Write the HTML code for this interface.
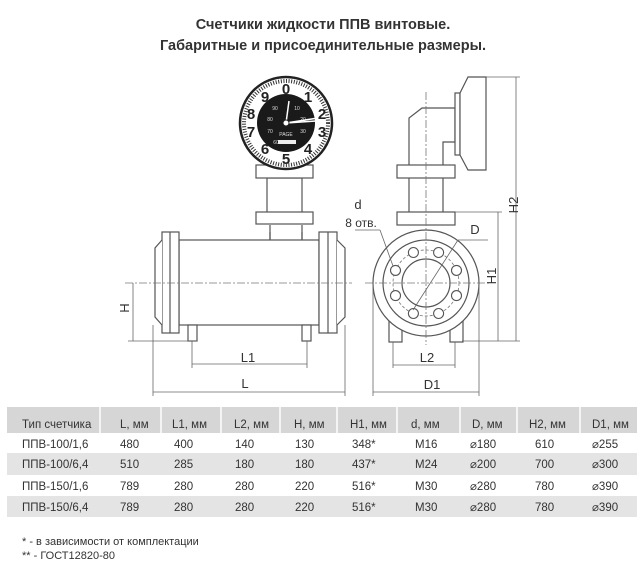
<!DOCTYPE html>
<html><head><meta charset="utf-8"><style>
body{margin:0;background:#fff;width:641px;height:574px;overflow:hidden;font-family:"Liberation Sans",sans-serif;}
</style></head><body>
<svg width="641" height="574" viewBox="0 0 641 574" xmlns="http://www.w3.org/2000/svg" font-family="Liberation Sans, sans-serif">
<text x="323" y="29" text-anchor="middle" font-size="14.5" font-weight="bold" fill="#333">Счетчики жидкости ППВ винтовые.</text>
<text x="323" y="50" text-anchor="middle" font-size="14.5" font-weight="bold" fill="#333">Габаритные и присоединительные размеры.</text>

<g fill="#fff" stroke="#555" stroke-width="1.2">
<path d="M270 225 L270 242 Q286 252 302 242 L302 225"/>
<rect x="267" y="178" width="35" height="35"/>
<rect x="256" y="165" width="57" height="13"/>
<rect x="256" y="212" width="57" height="12"/>
<rect x="179" y="240" width="140" height="85"/>
<path d="M270 240 L270 232 M302 240 L302 232"/>
<rect x="162" y="232" width="17" height="101"/>
<line x1="170" y1="232" x2="170" y2="333"/>
<path d="M162 240 L155 248 L155 317 L162 325"/>
<rect x="319" y="232" width="18" height="101"/>
<line x1="328" y1="232" x2="328" y2="333"/>
<path d="M337 240 L345 248 L345 317 L337 325"/>
<rect x="188" y="325" width="9" height="16"/>
<rect x="302" y="325" width="9" height="16"/>
<path d="M409 212 L409 118 L422 108 L455 108 L455 142 L443 142 L443 212"/>
<rect x="397" y="165" width="58" height="13"/>
<rect x="397" y="212" width="58" height="13"/>
<rect x="455" y="93" width="5" height="62"/>
<path d="M468 77 L486 77 L486 170 L468 170 L460 155 L460 93 Z"/>
<rect x="389" y="318" width="13" height="24"/>
<rect x="450" y="318" width="13" height="24"/>
<circle cx="426" cy="283" r="53"/>
<circle cx="426" cy="283" r="43"/>
<circle cx="426" cy="283" r="24"/>
</g>
<circle cx="426" cy="283" r="33" fill="none" stroke="#777" stroke-width="0.8" stroke-dasharray="3 2"/>
<g fill="#fff" stroke="#555" stroke-width="1.1">
<circle cx="438.6" cy="252.5" r="5"/><circle cx="456.5" cy="270.4" r="5"/>
<circle cx="456.5" cy="295.6" r="5"/><circle cx="438.6" cy="313.5" r="5"/>
<circle cx="413.4" cy="313.5" r="5"/><circle cx="395.5" cy="295.6" r="5"/>
<circle cx="395.5" cy="270.4" r="5"/><circle cx="413.4" cy="252.5" r="5"/>
</g>
<g stroke="#777" stroke-width="0.8" stroke-dasharray="8 2 2 2" fill="none">
<line x1="125" y1="283" x2="352" y2="283"/>
<line x1="365" y1="283" x2="490" y2="283"/>
<line x1="426" y1="92" x2="426" y2="345"/>
</g>
<g stroke="#666" stroke-width="0.8" fill="none">
<line x1="133" y1="283" x2="133" y2="341"/><line x1="128" y1="341" x2="197" y2="341"/>
<line x1="192" y1="341" x2="192" y2="368"/><line x1="307" y1="341" x2="307" y2="368"/>
<line x1="192" y1="364" x2="307" y2="364"/>
<line x1="153" y1="325" x2="153" y2="396"/><line x1="345" y1="325" x2="345" y2="396"/>
<line x1="153" y1="392" x2="345" y2="392"/>
<line x1="393" y1="342" x2="393" y2="368"/><line x1="455" y1="342" x2="455" y2="368"/>
<line x1="393" y1="365" x2="455" y2="365"/>
<line x1="373" y1="283" x2="373" y2="396"/><line x1="479" y1="283" x2="479" y2="396"/>
<line x1="373" y1="392" x2="479" y2="392"/>
<line x1="455" y1="212" x2="502" y2="212"/><line x1="462" y1="341" x2="520" y2="341"/>
<line x1="498" y1="212" x2="498" y2="341"/>
<line x1="486" y1="77" x2="520" y2="77"/><line x1="516" y1="77" x2="516" y2="341"/>
<line x1="458" y1="240" x2="413" y2="310"/><line x1="458" y1="240" x2="488" y2="240"/>
<line x1="355" y1="230" x2="380" y2="230"/><line x1="380" y1="230" x2="393" y2="266"/>
</g>
<g font-size="13" fill="#333">
<text x="248" y="362" text-anchor="middle">L1</text>
<text x="245" y="388" text-anchor="middle">L</text>
<text x="427" y="362" text-anchor="middle">L2</text>
<text x="432" y="389" text-anchor="middle">D1</text>
<text x="475" y="234" text-anchor="middle">D</text>
<text x="358" y="209" text-anchor="middle">d</text>
<text x="361" y="227" text-anchor="middle" font-size="12">8 отв.</text>
<text transform="translate(129,308) rotate(-90)" text-anchor="middle">H</text>
<text transform="translate(496,276) rotate(-90)" text-anchor="middle">H1</text>
<text transform="translate(518,205) rotate(-90)" text-anchor="middle">H2</text>
</g>
<circle cx="286" cy="123" r="46" fill="#fff" stroke="#222" stroke-width="2.5"/>
<circle cx="286" cy="123" r="42" fill="none" stroke="#333" stroke-width="4" stroke-dasharray="1 1.6"/>
<circle cx="286" cy="123" r="29" fill="#1a1a1a"/>
<g font-size="15" fill="#222" text-anchor="middle" font-weight="bold">
<text x="286" y="94">0</text><text x="308" y="102">1</text><text x="322" y="119">2</text>
<text x="322" y="137">3</text><text x="308" y="154">4</text><text x="286" y="164">5</text>
<text x="265" y="154">6</text><text x="251" y="137">7</text><text x="251" y="119">8</text><text x="265" y="102">9</text>
</g>
<g font-size="5" fill="#ddd" text-anchor="middle">
<text x="275" y="110">90</text><text x="297" y="110">10</text><text x="270" y="121">80</text>
<text x="303" y="121">20</text><text x="270" y="133">70</text><text x="303" y="133">30</text>
<text x="276" y="144">60</text><text x="286" y="136">PAGE</text>
</g>
<rect x="278" y="140" width="18" height="4" fill="#eee"/>
<g stroke="#fff" stroke-width="1.5" fill="none">
<line x1="286" y1="123" x2="289" y2="101"/>
<line x1="286" y1="123" x2="318" y2="118"/>
<line x1="286" y1="123" x2="316" y2="121"/>
</g>
<circle cx="286" cy="123" r="3" fill="#fff" stroke="#222"/>
<rect x="7" y="407" width="630" height="26" fill="#d6d6d6"/>
<rect x="7" y="453" width="630" height="22" fill="#e4e4e4"/>
<rect x="7" y="496" width="630" height="21" fill="#e4e4e4"/>
<g stroke="#fff" stroke-width="1.5">
<line x1="100" y1="407" x2="100" y2="433"/><line x1="161" y1="407" x2="161" y2="433"/>
<line x1="221" y1="407" x2="221" y2="433"/><line x1="280" y1="407" x2="280" y2="433"/>
<line x1="337" y1="407" x2="337" y2="433"/><line x1="397" y1="407" x2="397" y2="433"/>
<line x1="460" y1="407" x2="460" y2="433"/><line x1="517" y1="407" x2="517" y2="433"/>
<line x1="580" y1="407" x2="580" y2="433"/>
</g>
<g font-size="11.5" fill="#333">
<text x="22" y="428">Тип счетчика</text><text x="120" y="428">L, мм</text><text x="172" y="428">L1, мм</text>
<text x="234" y="428">L2, мм</text><text x="294" y="428">H, мм</text><text x="350" y="428">H1, мм</text>
<text x="411" y="428">d, мм</text><text x="472" y="428">D, мм</text><text x="529" y="428">H2, мм</text><text x="592" y="428">D1, мм</text>
<text x="22" y="448">ППВ-100/1,6</text><text x="120" y="448">480</text><text x="174" y="448">400</text><text x="235" y="448">140</text><text x="295" y="448">130</text><text x="352" y="448">348*</text><text x="415" y="448">M16</text><text x="470" y="448">⌀180</text><text x="535" y="448">610</text><text x="592" y="448">⌀255</text>
<text x="22" y="468">ППВ-100/6,4</text><text x="120" y="468">510</text><text x="174" y="468">285</text><text x="235" y="468">180</text><text x="295" y="468">180</text><text x="352" y="468">437*</text><text x="415" y="468">M24</text><text x="470" y="468">⌀200</text><text x="535" y="468">700</text><text x="592" y="468">⌀300</text>
<text x="22" y="490">ППВ-150/1,6</text><text x="120" y="490">789</text><text x="174" y="490">280</text><text x="235" y="490">280</text><text x="295" y="490">220</text><text x="352" y="490">516*</text><text x="415" y="490">M30</text><text x="470" y="490">⌀280</text><text x="535" y="490">780</text><text x="592" y="490">⌀390</text>
<text x="22" y="511">ППВ-150/6,4</text><text x="120" y="511">789</text><text x="174" y="511">280</text><text x="235" y="511">280</text><text x="295" y="511">220</text><text x="352" y="511">516*</text><text x="415" y="511">M30</text><text x="470" y="511">⌀280</text><text x="535" y="511">780</text><text x="592" y="511">⌀390</text>
<text x="22" y="545" font-size="11">* - в зависимости от комплектации</text>
<text x="22" y="559" font-size="11">** - ГОСТ12820-80</text>
</g>
</svg>
</body></html>
